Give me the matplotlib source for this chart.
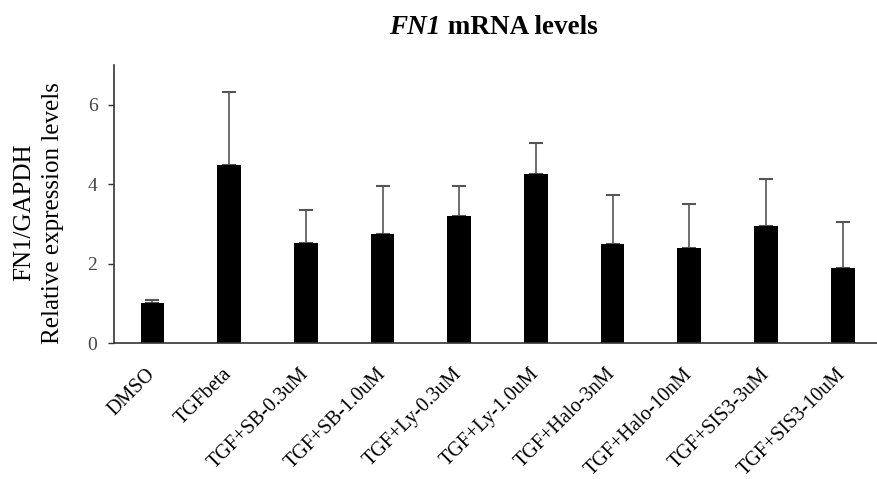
import numpy as np
import matplotlib.pyplot as plt
import matplotlib.transforms as mtransforms
from matplotlib.offsetbox import TextArea, HPacker, AnchoredOffsetbox

plt.rcParams['font.family'] = ['Liberation Serif', 'DejaVu Serif']

# -------------------- Data -------------------- #
groups = ['DMSO', 'TGFbeta', 'TGF+SB-0.3uM', 'TGF+SB-1.0uM', 'TGF+Ly-0.3uM',
          'TGF+Ly-1.0uM', 'TGF+Halo-3nM', 'TGF+Halo-10nM', 'TGF+SIS3-3uM',
          'TGF+SIS3-10uM']
means = [1.02, 4.48, 2.53, 2.75, 3.21, 4.26, 2.49, 2.39, 2.95, 1.89]
errors = [0.08, 1.84, 0.83, 1.20, 0.74, 0.79, 1.24, 1.11, 1.19, 1.16]

# -------------------- Plot -------------------- #
fig = plt.figure(figsize=(8.78, 4.79), dpi=100)
ax = fig.add_axes([0.130, 0.283, 0.869, 0.581])

x = np.arange(len(groups))
ax.bar(x, means, width=0.31, color='black', zorder=2)
ax.errorbar(x, means, yerr=[np.zeros(len(errors)), errors], fmt='none',
            ecolor='#555555', elinewidth=1.2, capsize=5, capthick=1.5, zorder=1)

ax.set_xlim(-0.5, 9.45)
ax.set_ylim(0, 7)
ax.set_yticks([0, 2, 4, 6])
ax.set_xticks(x)
ax.set_xticklabels(groups, rotation=45, ha='right', fontsize=14.5)
ax.tick_params(axis='x', length=0, pad=8)
ax.tick_params(axis='y', length=4, width=1, colors='#333333', labelsize=14, pad=8)
for lbl in ax.get_yticklabels():
    lbl.set_color('#444444')

# shift x labels a bit right and down
shift = mtransforms.ScaledTranslation(7 / 100, -10 / 100, fig.dpi_scale_trans)
for lbl in ax.get_xticklabels():
    lbl.set_transform(lbl.get_transform() + shift)

for s in ['top', 'right']:
    ax.spines[s].set_visible(False)
for s in ['left', 'bottom']:
    ax.spines[s].set_color('#333333')
    ax.spines[s].set_linewidth(1.2)

ax.set_ylabel('FN1/GAPDH\nRelative expression levels', fontsize=18, linespacing=1.4)
ax.yaxis.set_label_coords(-0.066, 0.47)

# title: italic gene name + bold text
t1 = TextArea('FN1', textprops=dict(fontsize=19.5, fontweight='bold', fontstyle='italic'))
t2 = TextArea(' mRNA levels', textprops=dict(fontsize=19.5, fontweight='bold'))
box = HPacker(children=[t1, t2], align='baseline', pad=0, sep=0)
anchored = AnchoredOffsetbox(loc='center', child=box, frameon=False,
                             bbox_to_anchor=(0.562, 0.942), bbox_transform=fig.transFigure,
                             borderpad=0)
fig.add_artist(anchored)

plt.savefig('out.png', dpi=100)
